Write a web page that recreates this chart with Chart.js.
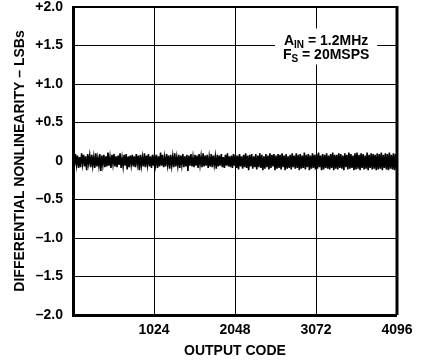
<!DOCTYPE html>
<html>
<head>
<meta charset="utf-8">
<script src="https://cdn.jsdelivr.net/npm/chart.js@4/dist/chart.umd.min.js"></script>
<style>
  html, body { margin: 0; padding: 0; background: #fff; }
  #wrap { width: 422px; height: 364px; position: relative; }
</style>
</head>
<body>
<div id="wrap"><canvas id="dnlChart"></canvas></div>
<script>
// x axis: output code, y axis: DNL in LSBs
const xTicks = [0, 1024, 2048, 3072, 4096];
const yTicks = [-2, -1.5, -1, -0.5, 0, 0.5, 1, 1.5, 2];
const noteLines = [['A', 'IN', ' = 1.2MHz'], ['F', 'S', ' = 20MSPS']];

// DNL, left to right across the code range
const dnl = [
  0.08,-0.06,0.09,-0.05,0.07,-0.09,0.05,-0.08,0.10,-0.04,0.08,-0.07,0.06,-0.12,0.09,-0.03,0.07,-0.08,0.08,-0.06,
  0.05,-0.09,0.10,-0.07,0.04,-0.06,0.09,-0.13,0.07,-0.05,0.08,-0.08,0.06,-0.07,0.11,-0.06,0.05,-0.09,0.08,-0.04,
  0.09,-0.07,0.06,-0.08,0.07,-0.05,0.10,-0.09,0.04,-0.07,0.08,-0.06,0.09,-0.11,0.06,-0.08,0.07,-0.05,0.08,-0.07,
  0.06,-0.08,0.09,-0.04,0.07,-0.12,0.08,-0.06,0.05,-0.07,0.10,-0.08,0.07,-0.05,0.09,-0.07,0.06,-0.09,0.08,-0.06,
  0.07,-0.05,0.08,-0.09,0.06,-0.07,0.11,-0.06,0.08,-0.08,0.05,-0.07,0.09,-0.05,0.07,-0.10,0.08,-0.06,0.06,-0.08,
  0.10,-0.07,0.05,-0.06,0.08,-0.09,0.07,-0.05,0.09,-0.08,0.06,-0.07,0.08,-0.13,0.07,-0.06,0.09,-0.07,0.05,-0.08,
  0.08,-0.06,0.07,-0.09,0.09,-0.05,0.06,-0.08,0.10,-0.07,0.07,-0.06,0.08,-0.09,0.05,-0.07,0.09,-0.08,0.07,-0.05,
  0.06,-0.10,0.08,-0.07,0.07,-0.06,0.09,-0.08,0.05,-0.09,0.08,-0.06,0.10,-0.07,0.06,-0.08,0.07,-0.09,0.09,-0.06,
  0.08,-0.09,0.07,-0.11,0.09,-0.07,0.06,-0.10,0.08,-0.08,0.10,-0.09,0.07,-0.12,0.08,-0.07,0.09,-0.10,0.06,-0.08,
  0.09,-0.11,0.07,-0.08,0.10,-0.09,0.08,-0.12,0.06,-0.10,0.09,-0.08,0.07,-0.11,0.10,-0.09,0.08,-0.07,0.09,-0.12,
  0.07,-0.10,0.09,-0.09,0.08,-0.11,0.10,-0.08,0.07,-0.12,0.09,-0.10,0.06,-0.09,0.08,-0.11,0.10,-0.08,0.07,-0.10,
  0.10,-0.09,0.08,-0.12,0.09,-0.10,0.07,-0.09,0.11,-0.11,0.08,-0.08,0.09,-0.12,0.07,-0.10,0.10,-0.09,0.08,-0.11,
  0.09,-0.10,0.11,-0.08,0.07,-0.12,0.09,-0.11,0.08,-0.09,0.10,-0.10,0.07,-0.11,0.09,-0.09,0.11,-0.12,0.08,-0.10,
  0.08,-0.11,0.10,-0.09,0.09,-0.10,0.07,-0.12,0.10,-0.08,0.08,-0.11,0.11,-0.10,0.09,-0.09,0.07,-0.12,0.10,-0.11,
  0.11,-0.10,0.08,-0.12,0.10,-0.09,0.09,-0.11,0.07,-0.10,0.11,-0.12,0.08,-0.09,0.10,-0.11,0.09,-0.10,0.08,-0.12,
  0.10,-0.11,0.09,-0.10,0.11,-0.12,0.08,-0.09,0.10,-0.11,0.09,-0.12,0.11,-0.10,0.08,-0.11,0.10,-0.12,0.09,-0.10
];

const codeMax = xTicks[xTicks.length - 1];
const points = dnl.map((v, i) => ({ x: (i + 0.5) * codeMax / dnl.length, y: v }));

const FONT = '"Liberation Sans", Arial, Helvetica, sans-serif';

// white box with the test conditions, sitting on the grid
const notePlugin = {
    id: 'note',
    afterDatasetsDraw(chart) {
        const ctx = chart.ctx;
        const x = chart.scales.x.getPixelForValue(3200);
        const y = chart.scales.y.getPixelForValue(1.5);
        ctx.save();
        ctx.fillStyle = '#fff';
        ctx.fillRect(x - 51, y - 17, 102, 36);
        ctx.fillStyle = '#000';
        ctx.textBaseline = 'alphabetic';
        noteLines.forEach((parts, i) => {
            const big = 'bold 14px ' + FONT;
            const small = 'bold 10px ' + FONT;
            ctx.font = big;
            const w0 = ctx.measureText(parts[0]).width;
            const w2 = ctx.measureText(parts[2]).width;
            ctx.font = small;
            const w1 = ctx.measureText(parts[1]).width;
            let cx = x - (w0 + w1 + w2) / 2;
            const base = y - 1 + i * 14;
            ctx.font = big;
            ctx.fillText(parts[0], cx, base);
            cx += w0;
            ctx.font = small;
            ctx.fillText(parts[1], cx, base + 3);
            cx += w1;
            ctx.font = big;
            ctx.fillText(parts[2], cx, base);
        });
        ctx.restore();
    }
};

// frame on top and right, heavier like the printed plot
const framePlugin = {
    id: 'frame',
    afterDraw(chart) {
        const a = chart.chartArea;
        const ctx = chart.ctx;
        ctx.save();
        ctx.strokeStyle = '#000';
        ctx.lineWidth = 2;
        ctx.beginPath();
        ctx.moveTo(a.left, a.top);
        ctx.lineTo(a.right, a.top);
        ctx.stroke();
        ctx.lineWidth = 3;
        ctx.beginPath();
        ctx.moveTo(a.right, a.top - 1);
        ctx.lineTo(a.right, a.bottom);
        ctx.stroke();
        ctx.restore();
    }
};

new Chart(document.getElementById('dnlChart'), {
    type: 'line',
    data: {
        datasets: [{
            data: points,
            borderColor: '#000',
            borderWidth: 1.6,
            pointRadius: 0,
            tension: 0
        }]
    },
    options: {
        responsive: true,
        maintainAspectRatio: false,
        animation: false,
        layout: { padding: { top: 7, right: 25, left: 0, bottom: 0 } },
        plugins: { legend: { display: false }, tooltip: { enabled: false } },
        scales: {
            x: {
                type: 'linear',
                min: 0,
                max: codeMax,
                afterFit: s => { s.height = 49; },
                afterBuildTicks: s => { s.ticks = xTicks.map(v => ({ value: v })); },
                ticks: {
                    color: '#000',
                    padding: 7,
                    maxRotation: 0,
                    font: { family: FONT, size: 14, weight: 'bold' },
                    callback: v => v === 0 ? '' : String(v)
                },
                grid: {
                    color: '#000',
                    drawTicks: false,
                    lineWidth: c => (c.tick && (c.tick.value === 0 || c.tick.value === codeMax)) ? 0 : 1
                },
                border: { color: '#000', width: 3 },
                title: {
                    display: true,
                    text: 'OUTPUT CODE',
                    color: '#000',
                    padding: { top: 0, bottom: 4 },
                    font: { family: FONT, size: 14, weight: 'bold' }
                }
            },
            y: {
                min: -2,
                max: 2,
                afterFit: s => { s.width = 73; s.paddingTop = 0; s.paddingBottom = 0; },
                afterBuildTicks: s => { s.ticks = yTicks.map(v => ({ value: v })); },
                ticks: {
                    color: '#000',
                    padding: 10,
                    font: { family: FONT, size: 14, weight: 'bold' },
                    callback: v => v === 0 ? '0' : (v > 0 ? '+' : '\u2013') + Math.abs(v).toFixed(1)
                },
                grid: {
                    color: '#000',
                    drawTicks: false,
                    lineWidth: c => (c.tick && (c.tick.value === -2 || c.tick.value === 2)) ? 0 : 1
                },
                border: { color: '#000', width: 3 },
                title: {
                    display: true,
                    text: 'DIFFERENTIAL NONLINEARITY \u2013 LSBs',
                    color: '#000',
                    padding: { top: 12, bottom: 0 },
                    font: { family: FONT, size: 14, weight: 'bold' }
                }
            }
        }
    },
    plugins: [notePlugin, framePlugin]
});
</script>
</body>
</html>
